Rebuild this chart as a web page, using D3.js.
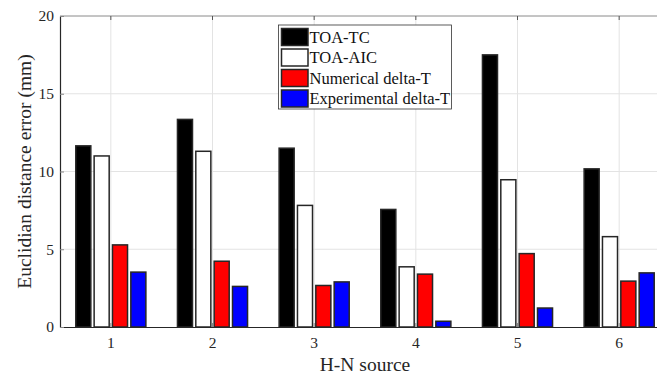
<!DOCTYPE html>
<html>
<head>
<meta charset="utf-8">
<script src="https://cdn.jsdelivr.net/npm/d3@7"></script>
<style>
  body { margin: 0; background: #fff; }
  svg { display: block; }
  text { font-family: "Liberation Serif", "Times New Roman", serif; }
</style>
</head>
<body>
<div id="chart"></div>
<script>
// data
const sources = ["1", "2", "3", "4", "5", "6"];
const seriesNames = ["TOA-TC", "TOA-AIC", "Numerical delta-T", "Experimental delta-T"];
const seriesColors = ["#000000", "#ffffff", "#ff0000", "#0000ff"];
const toaTC   = [11.65, 13.35, 11.5, 7.56, 17.5, 10.17];
const toaAIC  = [11.0, 11.3, 7.82, 3.87, 9.47, 5.81];
const numDT   = [5.28, 4.23, 2.67, 3.4, 4.72, 2.95];
const expDT   = [3.53, 2.61, 2.9, 0.37, 1.22, 3.48];
const yTicks  = [0, 5, 10, 15, 20];

const allSeries = [toaTC, toaAIC, numDT, expDT];

const W = 657, H = 376;
const pLeft = 60, pTop = 16, pBottom = 327, pRight = 670; // right side runs off the picture

const svg = d3.select("#chart").append("svg")
    .attr("width", W).attr("height", H);

const x = d3.scaleBand().domain(sources).range([pLeft, pRight]);
const inner = d3.scaleBand().domain(seriesNames)
    .range([x.bandwidth() / 2 - 36.7, x.bandwidth() / 2 + 36.7])
    .paddingInner(0.18).paddingOuter(0.09);
const y = d3.scaleLinear().domain([0, 20]).range([pBottom, pTop]);

// grid
const grid = svg.append("g");
yTicks.filter(d => d > 0 && d < 20).forEach(d => {
    grid.append("line").attr("x1", pLeft).attr("x2", pRight)
        .attr("y1", y(d)).attr("y2", y(d))
        .attr("stroke", "#e3e3e3").attr("stroke-width", 1);
});
sources.forEach(s => {
    const cx = x(s) + x.bandwidth() / 2;
    grid.append("line").attr("x1", cx).attr("x2", cx)
        .attr("y1", pTop).attr("y2", pBottom)
        .attr("stroke", "#e3e3e3").attr("stroke-width", 1);
});

// bars
const groups = svg.selectAll("g.grp").data(sources).enter().append("g")
    .attr("class", "grp")
    .attr("transform", s => `translate(${x(s)},0)`);

groups.selectAll("rect").data((s, i) => seriesNames.map((n, k) => ({name: n, k: k, v: allSeries[k][i]})))
    .enter().append("rect")
    .attr("x", d => inner(d.name))
    .attr("y", d => y(d.v))
    .attr("width", inner.bandwidth())
    .attr("height", d => y(0) - y(d.v))
    .attr("fill", d => seriesColors[d.k])
    .attr("stroke", "#262626")
    .attr("stroke-width", 1.5);

// box top line
svg.append("line").attr("x1", pLeft).attr("x2", pRight).attr("y1", pTop).attr("y2", pTop)
    .attr("stroke", "#8a8a8a").attr("stroke-width", 1);

// axes
const xAxis = d3.axisBottom(x).tickSizeInner(-4).tickSizeOuter(0).tickPadding(10);
const gx = svg.append("g").attr("transform", `translate(0,${pBottom})`).call(xAxis);
gx.select(".domain").attr("stroke", "#262626").attr("stroke-width", 1.2);
gx.selectAll(".tick line").attr("stroke", "#888");
gx.selectAll("text").attr("font-size", 15.5).attr("fill", "#262626")
    .style("font-family", "'Liberation Serif', serif");

// top tick marks
sources.forEach(s => {
    const cx = x(s) + x.bandwidth() / 2;
    svg.append("line").attr("x1", cx).attr("x2", cx).attr("y1", pTop).attr("y2", pTop + 4)
        .attr("stroke", "#555");
});

const yAxis = d3.axisLeft(y).tickValues(yTicks).tickSizeInner(-4).tickSizeOuter(0).tickPadding(6);
const gy = svg.append("g").attr("transform", `translate(${pLeft},0)`).call(yAxis);
gy.select(".domain").attr("stroke", "#262626").attr("stroke-width", 1.2);
gy.selectAll(".tick line").attr("stroke", "#888");
gy.selectAll("text").attr("font-size", 15.5).attr("fill", "#262626")
    .style("font-family", "'Liberation Serif', serif");

// axis labels
svg.append("text")
    .attr("transform", `translate(31,${(pTop + pBottom) / 2}) rotate(-90)`)
    .attr("text-anchor", "middle")
    .attr("font-size", 19.5).attr("fill", "#262626")
    .text("Euclidian distance error (mm)");

svg.append("text")
    .attr("x", 365).attr("y", 371)
    .attr("text-anchor", "middle")
    .attr("font-size", 19.5).attr("fill", "#262626")
    .text("H-N source");

// legend
const lg = svg.append("g").attr("transform", "translate(278.5,25)");
lg.append("rect").attr("x", 0).attr("y", 0).attr("width", 173).attr("height", 84)
    .attr("fill", "#fff").attr("stroke", "#333").attr("stroke-width", 0.8);
seriesNames.forEach((n, k) => {
    const ry = 3.5 + k * 20.5;
    lg.append("rect").attr("x", 3).attr("y", ry).attr("width", 26.5).attr("height", 17)
        .attr("fill", seriesColors[k]).attr("stroke", "#262626").attr("stroke-width", 1.5);
    lg.append("text").attr("x", 31).attr("y", ry + 14)
        .attr("font-size", 16.5).attr("fill", "#111").text(n);
});
</script>
</body>
</html>
